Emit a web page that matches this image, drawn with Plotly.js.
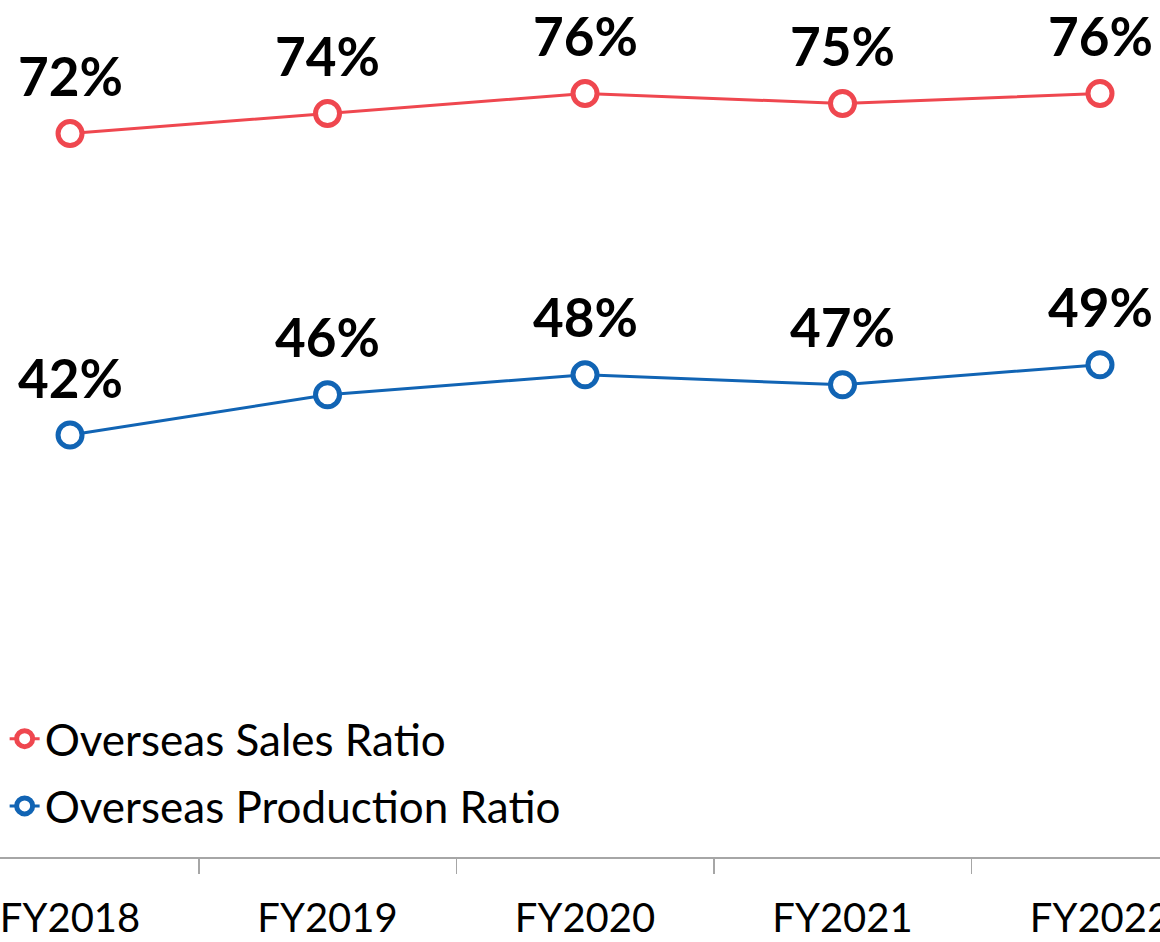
<!DOCTYPE html>
<html>
<head>
<meta charset="utf-8">
<script src="https://cdn.plot.ly/plotly-3.0.1.min.js"></script>
<style>html,body{margin:0;padding:0;background:#fff;}#chart{width:1160px;height:942px;}</style>
</head>
<body>
<div id="chart"></div>
<script>
const categories = ["FY2018", "FY2019", "FY2020", "FY2021", "FY2022"];
const salesRatio = [72, 74, 76, 75, 76];
const productionRatio = [42, 46, 48, 47, 49];
const seriesNames = ["Overseas Sales Ratio", "Overseas Production Ratio"];
const salesColor = "#EF474F";
const prodColor = "#1164B4";

function lineTrace(name, ys, color, group) {
  return {
    type: "scatter",
    mode: "lines+markers",
    name: name,
    legendgroup: group,
    x: categories,
    y: ys,
    line: {color: color, width: 3},
    marker: {symbol: "circle", size: 24, color: "#ffffff", line: {color: color, width: 5}},
    cliponaxis: false,
    hoverinfo: "skip"
  };
}

const traces = [
  lineTrace(seriesNames[0], salesRatio, salesColor, "a"),
  lineTrace(seriesNames[1], productionRatio, prodColor, "b")
];

const annotations = [];
[salesRatio, productionRatio].forEach(function (ys) {
  ys.forEach(function (v, i) {
    annotations.push({
      x: categories[i], y: v, xref: "x", yref: "y",
      text: v + "%", showarrow: false, yshift: 58,
      font: {family: "Lato, 'Open Sans', sans-serif", size: 53, color: "#000000", weight: "bold"}
    });
  });
});

const layout = {
  width: 1160, height: 942,
  margin: {l: 0, r: 0, t: 0, b: 85},
  paper_bgcolor: "#ffffff", plot_bgcolor: "#ffffff",
  showlegend: true,
  legend: {
    x: 0.004, y: 0.179, xanchor: "left", yanchor: "top",
    font: {family: "Lato, 'Open Sans', sans-serif", size: 44, color: "#000000"},
    bgcolor: "rgba(0,0,0,0)", tracegroupgap: 7, traceorder: "grouped", itemsizing: "trace",
    borderwidth: 0
  },
  xaxis: {
    type: "category",
    range: [-0.272, 4.233],
    tickson: "boundaries",
    ticks: "outside", ticklen: 15, tickwidth: 1.5, tickcolor: "#A6A6A6",
    showline: true, linecolor: "#A6A6A6", linewidth: 2,
    showgrid: false, zeroline: false, automargin: false,
    ticklabelstandoff: 25,
    tickfont: {family: "Lato, 'Open Sans', sans-serif", size: 40, color: "#000000"},
    fixedrange: true
  },
  yaxis: {
    range: [0, 85.3],
    visible: false, showgrid: false, zeroline: false, fixedrange: true
  },
  annotations: annotations
};

Plotly.newPlot("chart", traces, layout, {displayModeBar: false, staticPlot: true});
</script>
</body>
</html>
